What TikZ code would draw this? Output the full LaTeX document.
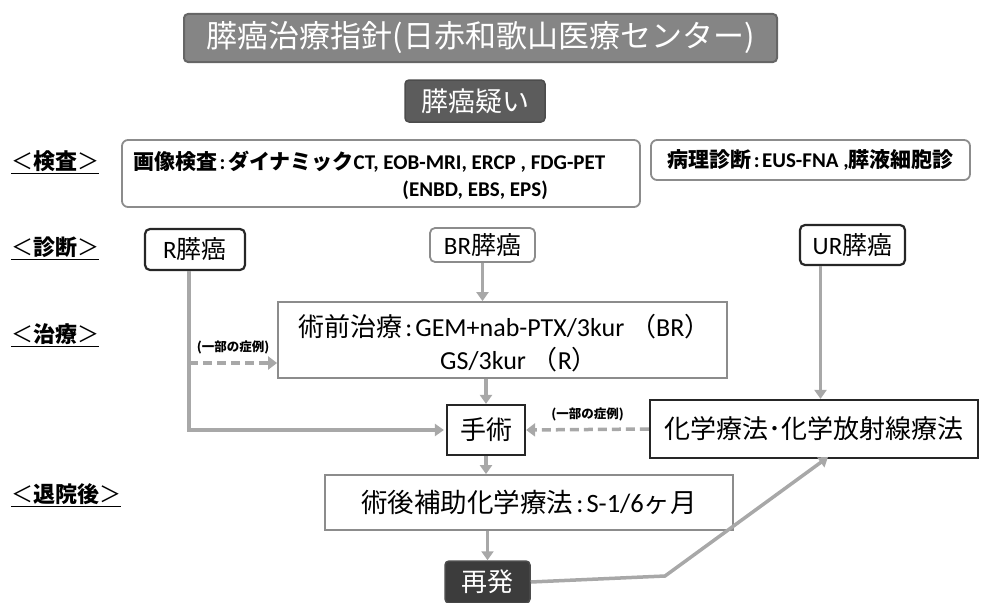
\documentclass[tikz,border=0pt]{standalone}
\usepackage{fontspec}
\setmainfont{Carlito}
\newfontfamily\jp{Noto Sans CJK JP}
\usetikzlibrary{arrows.meta,calc}
\definecolor{agray}{HTML}{A8A8A8}
\definecolor{bgray}{HTML}{8C8C8C}
\definecolor{tgray}{HTML}{858585}
\definecolor{dgray}{HTML}{4A4A4A}
\definecolor{rgray}{HTML}{3C3C3C}
\tikzset{
  lbl/.style={anchor=west,font=\jp\fontsize{22}{24}\selectfont,inner sep=0pt},
  gbox/.style={draw=bgray,line width=1.8pt,inner sep=0pt},
  kbox/.style={draw=black!85,line width=2.2pt,inner sep=0pt},
  darkbox/.style={fill=dgray,draw=black!70,line width=1.5pt,rounded corners=4pt,text=white,inner sep=0pt},
  garrow/.style={draw=agray,line width=3.5pt,-{Triangle[length=9pt,width=12pt]}},
  gdash/.style={draw=agray,line width=3.5pt,dash pattern=on 9pt off 5pt,-{Triangle[length=9pt,width=13pt]}},
  small/.style={font=\jp\fontsize{12.5}{13}\selectfont\bfseries,inner sep=0pt}
}
\newcommand{\lblul}[1]{\underline{＜{\bfseries #1}＞}}
\newcommand{\cln}{\hspace{0.12em}:\hspace{0.12em}}
\begin{document}
\begin{tikzpicture}[x=1pt,y=-1pt]
\useasboundingbox (0,0) rectangle (981,602);
% title
\node[fill=tgray,draw=black!60,line width=2pt,rounded corners=4pt,text=white,minimum width=593pt,minimum height=48pt,inner sep=0pt,font=\jp\fontsize{31}{32}\selectfont] (title) at (480.5,38) {膵癌治療指針(日赤和歌山医療センター)};
\node[darkbox,fill=dgray!90,minimum width=140pt,minimum height=42pt,font=\jp\fontsize{27}{28}\selectfont] (susp) at (475,101) {膵癌疑い};
% side labels
\node[lbl] (l1) at (11,162) {\lblul{検査}};
\node[lbl] (l2) at (11,248) {\lblul{診断}};
\node[lbl] (l3) at (11,335) {\lblul{治療}};
\node[lbl] (l4) at (11,495) {\lblul{退院後}};
% exam boxes
\node[gbox,rounded corners=6pt,minimum width=518pt,minimum height=67pt] (img) at (381,173.5) {};
\node[anchor=west,inner sep=0pt,font=\fontsize{21}{23}\selectfont\bfseries] (imgt1) at (133,162) {{\jp 画像検査}\cln{\jp ダイナミック}CT, EOB-MRI, ERCP , FDG-PET};
\node[anchor=east,inner sep=0pt,font=\fontsize{21}{23}\selectfont\bfseries] (imgt2) at (548,190) {(ENBD, EBS, EPS)};
\node[gbox,rounded corners=6pt,minimum width=319pt,minimum height=40pt,font=\fontsize{21}{23}\selectfont\bfseries] (path) at (810.5,160) {{\jp 病理診断}\cln EUS-FNA ,{\jp 膵液細胞診}};
% diagnosis
\node[kbox,rounded corners=5pt,minimum width=100pt,minimum height=41pt,font=\fontsize{25}{26}\selectfont] (R) at (195,249.5) {R{\jp 膵癌}};
\node[gbox,rounded corners=5pt,minimum width=105pt,minimum height=34pt,font=\fontsize{25}{26}\selectfont] (BR) at (482.5,245) {BR{\jp 膵癌}};
\node[kbox,rounded corners=5pt,minimum width=105pt,minimum height=40pt,font=\fontsize{25}{26}\selectfont] (UR) at (852.5,245) {UR{\jp 膵癌}};
% treatment
\node[gbox,minimum width=449pt,minimum height=76pt] (pre) at (502.5,340) {};
\node[anchor=west,inner sep=0pt,font=\fontsize{26}{28}\selectfont] (pret1) at (298,327) {{\jp 術前治療}\cln GEM+nab-PTX/3kur\ {\jp （}BR{\jp ）}};
\node[anchor=west,inner sep=0pt,font=\fontsize{26}{28}\selectfont] (pret2) at (440,360) {GS/3kur\ {\jp （}R{\jp ）}};
\node[kbox,minimum width=78pt,minimum height=50pt,font=\jp\fontsize{26}{27}\selectfont] (surg) at (486,430) {手術};
\node[kbox,minimum width=328pt,minimum height=58pt,font=\jp\fontsize{26}{27}\selectfont] (chemo) at (814,429) {化学療法･化学放射線療法};
% after discharge
\node[gbox,minimum width=408pt,minimum height=55pt,font=\fontsize{26.5}{28}\selectfont] (post) at (529,502.5) {{\jp 術後補助化学療法}\cln S-1/6{\jp ヶ月}};
\node[darkbox,fill=rgray,minimum width=85pt,minimum height=42pt,font=\jp\fontsize{26}{27}\selectfont] (rel) at (487.5,582) {再発};
% connectors
\draw[garrow] (BR.south) -- (BR.south |- pre.north);
\draw[garrow] (surg.north |- pre.south) -- (surg.north);
\draw[garrow] (surg.south) -- (surg.south |- post.north);
\draw[garrow] (rel.north |- post.south) -- (rel.north);
\draw[garrow] ([xshift=-6pt]R.south) |- ([xshift=-2pt]surg.west);
\coordinate (rd) at (189,363);
\draw[gdash] (rd) -- (rd -| pre.west) node[small,midway,above=7pt] {(一部の症例)};
\draw[garrow] ([xshift=-32pt]UR.south) -- ([xshift=-32pt]UR.south |- chemo.north);
\draw[gdash] (chemo.west) -- (surg.east) node[small,midway,above=7pt] {(一部の症例)};
\coordinate (bend) at (665,576);
\draw[garrow] (rel.east) -- (bend) -- ([xshift=14pt,yshift=2pt]chemo.south);
\end{tikzpicture}
\end{document}
